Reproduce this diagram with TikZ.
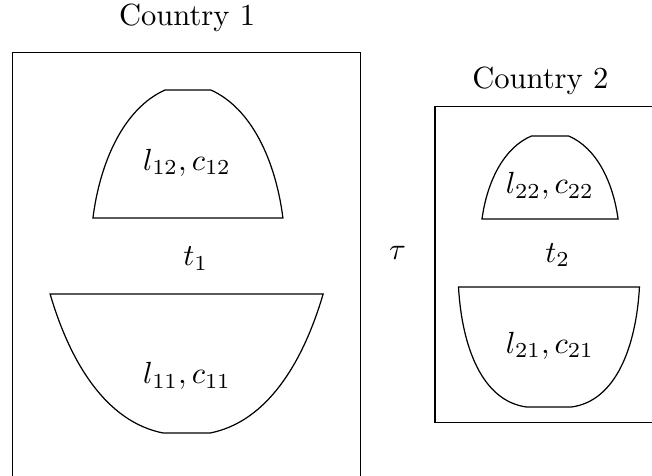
\documentclass[tikz,border=0pt]{standalone}
\usetikzlibrary{positioning}
\begin{document}
\begin{tikzpicture}[
        country/.style={draw, thin},
        bowl/.style={draw, thin},
        lbl/.style={inner sep=1pt}
    ]
        % Page frame
        \clip (0,0) rectangle (7.494,5.46);

        % Country boxes
        \draw[country] (0.14,-0.5) rectangle (4.14,4.86);
        \draw[country] (5.0,0.60) rectangle (7.9,4.24);
        \node[lbl] (C1) at (2.15,5.25) {Country 1};
        \node[lbl] (C2) at (6.21,4.53) {Country 2};

        % Country 1 sectors
        \draw[bowl] (1.068,2.954) .. controls (1.153,3.620) and (1.433,4.218) .. (1.896,4.425)
            -- (2.424,4.425) .. controls (2.887,4.218) and (3.167,3.620) .. (3.252,2.954) -- cycle;
        \draw[bowl] (0.576,2.080) .. controls (0.810,1.282) and (1.226,0.611) .. (1.875,0.483)
            -- (2.415,0.483) .. controls (3.064,0.611) and (3.480,1.282) .. (3.714,2.080) -- cycle;
        \node[lbl] (S12) at (2.15,3.59) {$l_{12}, c_{12}$};
        \node[lbl] (S11) at (2.15,1.14) {$l_{11}, c_{11}$};
        \node[lbl] (T1) at (2.25,2.49) {$t_1$};

        % Trade cost
        \node[lbl] (tau) at (4.57,2.55) {$\tau$};

        % Country 2 sectors
        \draw[bowl] (5.540,2.943) .. controls (5.599,3.375) and (5.791,3.763) .. (6.109,3.897)
            -- (6.535,3.897) .. controls (6.853,3.763) and (7.045,3.375) .. (7.104,2.943) -- cycle;
        \draw[bowl] (5.270,2.161) .. controls (5.309,1.471) and (5.543,0.851) .. (6.051,0.782)
            -- (6.569,0.782) .. controls (7.077,0.851) and (7.311,1.471) .. (7.350,2.161) -- cycle;
        \node[lbl] (S22) at (6.32,3.32) {$l_{22}, c_{22}$};
        \node[lbl] (S21) at (6.32,1.49) {$l_{21}, c_{21}$};
        \node[lbl] (T2) at (6.41,2.53) {$t_2$};
    \end{tikzpicture}
\end{document}
